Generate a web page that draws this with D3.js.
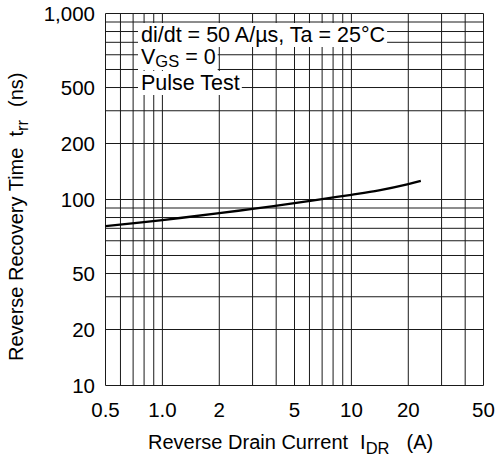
<!DOCTYPE html>
<html>
<head>
<meta charset="UTF-8">
<style>
body { margin: 0; background: #fff; }
text { font-family: "Liberation Sans", Arial, sans-serif; fill: #000; }
</style>
</head>
<body>
<svg></svg>
<script src="https://d3js.org/d3.v7.min.js"></script>
<script>

let width = 497, height = 461;

// Reverse drain current (A) and reverse recovery time (ns)
let current = [0.5, 1, 2, 3, 5, 7, 10, 14, 20, 23.3];
let trr = [72, 77.5, 84.5, 89, 95.5, 100.5, 106, 112, 121, 126];

let xGrid = [0.5, 0.6, 0.7, 0.8, 0.9, 1, 2, 3, 4, 5, 6, 7, 8, 9, 10, 20, 30, 40, 50];
let yGrid = [10, 20, 30, 40, 50, 60, 70, 80, 90, 100, 200, 300, 400, 500, 600, 700, 800, 900, 1000];

let xTicks = [0.5, 1, 2, 5, 10, 20, 50];
let xTickLabels = ["0.5", "1.0", "2", "5", "10", "20", "50"];
// labels sit where the original sheet puts them
let yTicks = [10, 20, 40, 100, 200, 400, 1000];
let yTickLabels = ["10", "20", "50", "100", "200", "500", "1,000"];

let notes = ["di/dt = 50 A/\u00b5s, Ta = 25\u00b0C", "V|GS| = 0", "Pulse Test"];

let svg = d3.select("svg")
    .attr("width", width)
    .attr("height", height)
    .attr("viewBox", "0 0 " + width + " " + height);

let x = d3.scaleLog().domain([0.5, 50]).range([105.5, 483.5]);
let y = d3.scaleLog().domain([10, 1000]).range([385.5, 13.5]);

// grid
let grid = svg.append("g").attr("stroke", "#1a1a1a").attr("stroke-width", 1);
grid.selectAll(".vx").data(xGrid).enter().append("line")
    .attr("x1", d => x(d)).attr("x2", d => x(d))
    .attr("y1", y(10)).attr("y2", y(1000));
grid.selectAll(".hy").data(yGrid).enter().append("line")
    .attr("y1", d => y(d)).attr("y2", d => y(d))
    .attr("x1", x(0.5)).attr("x2", x(50));

// notes with white boxes behind them
let noteY = [42, 64, 90];
let ng = svg.append("g");
notes.forEach(function(s, i) {
    let g = ng.append("g");
    let rect = g.append("rect").attr("fill", "#fff");
    let t = g.append("text").attr("x", 141).attr("y", noteY[i]).style("font-size", "21.5px");
    let parts = s.split("|");
    if (parts.length === 3) {
        t.append("tspan").text(parts[0]);
        t.append("tspan").text(parts[1]).style("font-size", "16.5px").attr("dy", 3);
        t.append("tspan").text(parts[2]).attr("dy", -3);
    } else {
        t.text(s);
    }
    let b = t.node().getBBox();
    rect.attr("x", b.x - 3).attr("y", b.y).attr("width", b.width + 5).attr("height", b.height);
});

// curve
let pts = current.map((c, i) => [c, trr[i]]);
svg.append("path")
    .datum(pts)
    .attr("fill", "none")
    .attr("stroke", "#000")
    .attr("stroke-width", 2.3)
    .attr("d", d3.line().x(d => x(d[0])).y(d => y(d[1])).curve(d3.curveCatmullRom));

// tick labels
svg.append("g").selectAll("text").data(xTicks).enter().append("text")
    .attr("x", d => x(d))
    .attr("y", 417)
    .attr("text-anchor", "middle")
    .style("font-size", "20.5px")
    .text((d, i) => xTickLabels[i]);

svg.append("g").selectAll("text").data(yTicks).enter().append("text")
    .attr("x", 95)
    .attr("y", d => y(d) + 7)
    .attr("text-anchor", "end")
    .style("font-size", "20.5px")
    .text((d, i) => yTickLabels[i]);

// axis titles
let xt = svg.append("text").attr("x", 148).attr("y", 449).style("font-size", "20px");
xt.append("tspan").text("Reverse Drain Current");
xt.append("tspan").attr("dx", 12).text("I");
xt.append("tspan").attr("dy", 5).style("font-size", "16.5px").text("DR");
xt.append("tspan").attr("dy", -5).attr("dx", 17).text("(A)");

let yt = svg.append("text").attr("transform", "translate(23,361) rotate(-90)").style("font-size", "20px");
yt.append("tspan").text("Reverse Recovery Time");
yt.append("tspan").attr("dx", 11).text("t");
yt.append("tspan").attr("dy", 5).style("font-size", "16.5px").text("rr");
yt.append("tspan").attr("dy", -5).attr("dx", 13).text("(ns)");

</script>
</body>
</html>
